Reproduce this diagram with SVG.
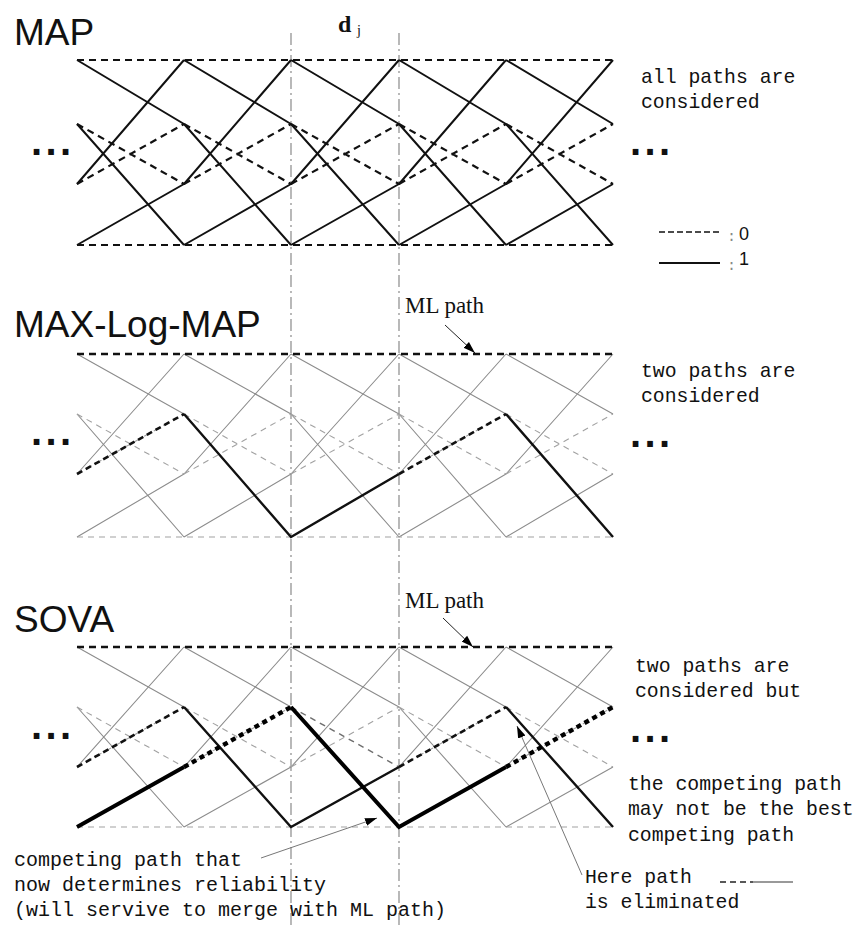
<svg xmlns="http://www.w3.org/2000/svg" width="860" height="925" viewBox="0 0 860 925">
  <style>
    .title { font-family: "Liberation Sans", Arial, sans-serif; font-size: 37px; fill: #111; }
    .mono { font-family: "Liberation Mono", "DejaVu Sans Mono", monospace; font-size: 19.8px; fill: #111; }
    .serif { font-family: "Liberation Serif", "Times New Roman", serif; fill: #111; }
    .dots { font-family: "Liberation Sans", Arial, sans-serif; font-size: 40px; font-weight: bold; letter-spacing: 3.4px; fill: #111; }
    .key { font-family: "Liberation Sans", Arial, sans-serif; font-size: 18px; fill: #111; }
    line, path { fill: none; }
    .head { fill: #000; stroke: none; }
    .guide { stroke: #8a8a8a; stroke-width: 1.2; stroke-dasharray: 12 4 2 4; }
    .b1 { stroke: #111; stroke-width: 2; }
    .b0 { stroke: #111; stroke-width: 2.2; stroke-dasharray: 7 5; }
    .g1 { stroke: #8c8c8c; stroke-width: 1.1; }
    .g0 { stroke: #a2a2a2; stroke-width: 1.1; stroke-dasharray: 6 5; }
    .g0d { stroke: #6e6e6e; stroke-width: 1.4; stroke-dasharray: 6 5; }
    .ml { stroke: #111; stroke-width: 2.6; stroke-dasharray: 7 5; }
    .p1 { stroke: #111; stroke-width: 2.4; }
    .p0 { stroke: #111; stroke-width: 2.6; stroke-dasharray: 6 4; }
    .t1 { stroke: #000; stroke-width: 4; }
    .t0 { stroke: #000; stroke-width: 4.4; stroke-dasharray: 5 4; }
    .lead { stroke: #222; stroke-width: 1; }
    .leadg { stroke: #777; stroke-width: 1; }
  </style>
  <defs>
    <marker id="ah" viewBox="0 0 12 10" refX="12" refY="5" markerWidth="12" markerHeight="10" markerUnits="userSpaceOnUse" orient="auto">
      <path class="head" d="M0 1L12 5L0 9z"/>
    </marker>
  </defs>

  <!-- time-step guides through all three trellises -->
  <g id="guides">
    <line class="guide" x1="291" y1="33" x2="291" y2="925"/>
    <line class="guide" x1="399" y1="33" x2="399" y2="925"/>
    <text class="serif" x="338" y="32" font-size="24" font-weight="bold">d</text>
    <text class="serif" x="357" y="35" font-size="14">j</text>
  </g>

  <!-- MAP: every branch drawn -->
  <g id="map">
    <text class="title" x="14" y="45">MAP</text>
    <path class="b1" d="M77 60L184 124M77 124L184 245M77 184L184 60M77 245L184 184
      M184 60L291 124M184 124L291 245M184 184L291 60M184 245L291 184
      M291 60L399 124M291 124L399 245M291 184L399 60M291 245L399 184
      M399 60L506 124M399 124L506 245M399 184L506 60M399 245L506 184
      M506 60L613 124M506 124L613 245M506 184L613 60M506 245L613 184"/>
    <path class="b0" d="M77 60H613M77 245H613
      M77 124L184 184M77 184L184 124
      M184 124L291 184M184 184L291 124
      M291 124L399 184M291 184L399 124
      M399 124L506 184M399 184L506 124
      M506 124L613 184M506 184L613 124"/>
    <text class="dots" x="31" y="155">...</text>
    <text class="dots" x="630" y="155">...</text>
    <text class="mono" x="641" y="83">all paths are</text>
    <text class="mono" x="641" y="108">considered</text>
  </g>

  <!-- branch legend -->
  <g id="legend">
    <line class="b0" x1="659" y1="232" x2="720" y2="232" style="stroke-width:1.6;stroke-dasharray:6 3"/>
    <line class="b1" x1="659" y1="263" x2="720" y2="263"/>
    <text class="mono" x="727" y="241" style="fill:#888;font-size:15px">:</text>
    <text class="mono" x="727" y="270" style="fill:#888;font-size:15px">:</text>
    <text class="key" x="739" y="240">0</text>
    <text class="key" x="739" y="265">1</text>
  </g>

  <!-- MAX-Log-MAP: ML path and one competing path -->
  <g id="maxlogmap">
    <text class="title" x="14" y="337">MAX-Log-MAP</text>
    <path class="g1" d="M77 354L184 414M77 414L184 537M77 474L184 354M77 537L184 474
      M184 354L291 414M184 414L291 537M184 474L291 354M184 537L291 474
      M291 354L399 414M291 414L399 537M291 474L399 354M291 537L399 474
      M399 354L506 414M399 414L506 537M399 474L506 354M399 537L506 474
      M506 354L613 414M506 414L613 537M506 474L613 354M506 537L613 474"/>
    <path class="g0" d="M77 537H613
      M77 414L184 474M77 474L184 414
      M184 414L291 474M184 474L291 414
      M291 414L399 474M291 474L399 414
      M399 414L506 474M399 474L506 414
      M506 414L613 474M506 474L613 414"/>
    <path class="ml" d="M77 354H613"/>
    <path class="p0" d="M77 474L184 414M399 474L506 414"/>
    <path class="p1" d="M184 414L291 537L399 474M506 414L613 537"/>
    <text class="serif" x="405" y="313" font-size="23">ML path</text>
    <line class="lead" x1="445" y1="325" x2="475" y2="353" marker-end="url(#ah)"/>
    <text class="dots" x="31" y="445">...</text>
    <text class="dots" x="630" y="447">...</text>
    <text class="mono" x="641" y="377">two paths are</text>
    <text class="mono" x="641" y="402">considered</text>
  </g>

  <!-- SOVA: ML path, competing paths and eliminated path -->
  <g id="sova">
    <text class="title" x="14" y="632">SOVA</text>
    <path class="g1" d="M77 647L184 707M77 707L184 827M77 767L184 647M77 827L184 767
      M184 647L291 707M184 707L291 827M184 767L291 647M184 827L291 767
      M291 647L399 707M291 707L399 827M291 767L399 647M291 827L399 767
      M399 647L506 707M399 707L506 827M399 767L506 647M399 827L506 767
      M506 647L613 707M506 707L613 827M506 767L613 647M506 827L613 767"/>
    <path class="g0" d="M77 827H613
      M77 707L184 767M77 767L184 707
      M184 707L291 767M184 767L291 707
      M291 767L399 707
      M399 707L506 767M399 767L506 707
      M506 707L613 767M506 767L613 707"/>
    <path class="g0d" d="M291 707L399 767"/>
    <path class="ml" d="M77 647H613"/>
    <path class="p0" d="M77 767L184 707M399 767L506 707"/>
    <path class="p1" d="M184 707L291 827L399 767M506 707L613 827"/>
    <path class="t0" d="M184 767L291 707M506 767L613 707"/>
    <path class="t1" d="M77 827L184 767M291 707L399 827L506 767"/>
    <text class="serif" x="405" y="608" font-size="23">ML path</text>
    <line class="lead" x1="443" y1="618" x2="473" y2="647" marker-end="url(#ah)"/>
    <text class="dots" x="31" y="739">...</text>
    <text class="dots" x="630" y="742">...</text>
    <text class="mono" x="635" y="672">two paths are</text>
    <text class="mono" x="635" y="697">considered but</text>
    <text class="mono" x="628" y="790">the competing path</text>
    <text class="mono" x="628" y="815">may not be the best</text>
    <text class="mono" x="628" y="841">competing path</text>

    <line class="leadg" x1="261" y1="858" x2="377" y2="818" marker-end="url(#ah)"/>
    <text class="mono" x="14" y="866" style="font-size:20px">competing path that</text>
    <text class="mono" x="14" y="891" style="font-size:20px">now determines reliability</text>
    <text class="mono" x="14" y="916" style="font-size:20px">(will servive to merge with ML path)</text>

    <line class="leadg" x1="582" y1="875" x2="517" y2="726" marker-end="url(#ah)"/>
    <text class="mono" x="585" y="883">Here path</text>
    <text class="mono" x="585" y="908">is eliminated</text>
    <line x1="720" y1="882" x2="753" y2="882" style="stroke:#222;stroke-width:1.6;stroke-dasharray:6 4"/>
    <line x1="753" y1="882" x2="793" y2="882" style="stroke:#999;stroke-width:2"/>
  </g>
</svg>
